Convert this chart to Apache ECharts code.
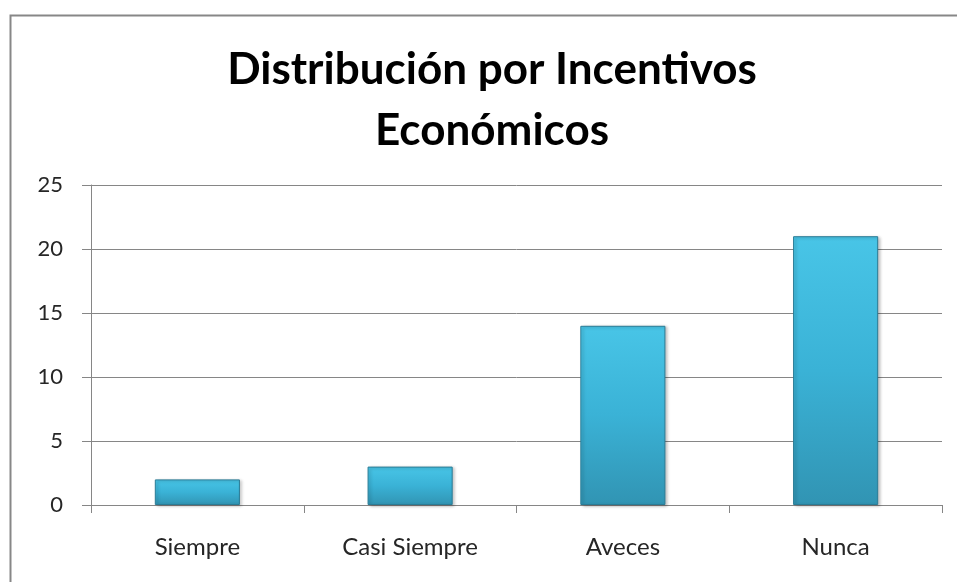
<!DOCTYPE html>
<html>
<head>
<meta charset="utf-8">
<script src="https://cdn.jsdelivr.net/npm/echarts@6/dist/echarts.min.js"></script>
<style>
  html, body { margin: 0; padding: 0; background: #ffffff; }
  #chart { width: 957px; height: 582px; }
</style>
</head>
<body>
<div id="chart"></div>
<script>
const titleText = 'Distribución por Incentivos\nEconómicos';
const categories = ['Siempre', 'Casi Siempre', 'Aveces', 'Nunca'];
const values = [2, 3, 14, 21];
const yMin = 0;
const yMax = 25;
const yStep = 5;

const chart = echarts.init(document.getElementById('chart'), null, { renderer: 'canvas' });

const barGradient = new echarts.graphic.LinearGradient(0, 0, 0, 1, [
  { offset: 0, color: '#48c5e7' },
  { offset: 0.5, color: '#3ab2d6' },
  { offset: 1, color: '#3194b3' }
]);

chart.setOption({
  backgroundColor: '#ffffff',
  animation: false,
  graphic: [{
    type: 'rect',
    left: 8,
    top: 13,
    shape: { x: 0, y: 0, width: 1200, height: 1200 },
    style: { fill: 'none', stroke: '#878787', lineWidth: 2 },
    silent: true,
    z: -1
  }],
  title: {
    text: titleText,
    left: 487,
    top: 34,
    textAlign: 'center',
    textStyle: {
      fontFamily: 'Lato',
      fontWeight: 'bold',
      fontSize: 44,
      lineHeight: 61,
      color: '#000000'
    }
  },
  grid: {
    left: 91,
    right: 15,
    top: 185,
    bottom: 77,
    containLabel: false
  },
  xAxis: {
    type: 'category',
    data: categories,
    boundaryGap: true,
    axisLine: { show: true, lineStyle: { color: '#868686', width: 1 } },
    axisTick: { show: true, length: 8, lineStyle: { color: '#868686' } },
    axisLabel: {
      margin: 30,
      fontFamily: 'Lato',
      fontSize: 24,
      color: '#262626'
    }
  },
  yAxis: {
    type: 'value',
    min: yMin,
    max: yMax,
    interval: yStep,
    axisLine: { show: true, lineStyle: { color: '#868686', width: 1 } },
    axisTick: { show: true, length: 9, lineStyle: { color: '#868686' } },
    splitLine: { show: true, lineStyle: { color: '#868686', width: 1 } },
    axisLabel: {
      margin: 28,
      fontFamily: 'Lato',
      fontSize: 22,
      color: '#262626'
    }
  },
  series: [{
    type: 'bar',
    data: values,
    barWidth: '40%',
    itemStyle: {
      color: barGradient,
      borderColor: '#2a7c96',
      borderWidth: 1,
      shadowColor: 'rgba(0,0,0,0.25)',
      shadowBlur: 3,
      shadowOffsetX: 2,
      shadowOffsetY: 1
    }
  }]
});
</script>
</body>
</html>
